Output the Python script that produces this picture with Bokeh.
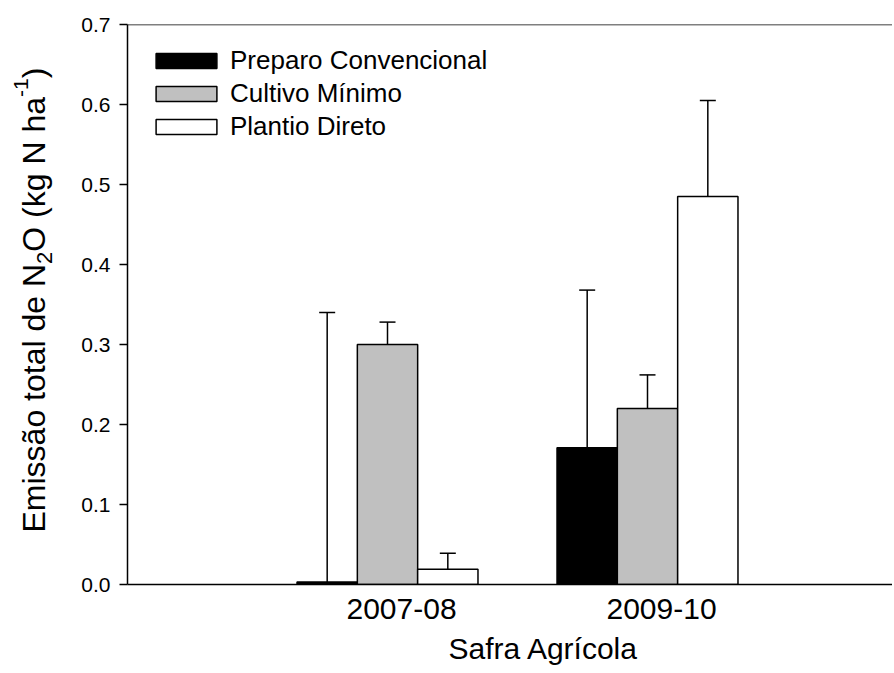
from bokeh.plotting import figure
from bokeh.layouts import row
from bokeh.models import (Range1d, FixedTicker, CustomJSTickFormatter, NumeralTickFormatter,
                          ColumnDataSource, Whisker, TeeHead, Legend, LegendItem, Span, Title)
from bokeh.core.properties import value
from bokeh.embed import file_html
from bokeh.resources import INLINE

# ---------------- data ----------------
seasons = ["2007-08", "2009-10"]
series_names = ["Preparo Convencional", "Cultivo Mínimo", "Plantio Direto"]
series_colors = ["#000000", "#C0C0C0", "#FFFFFF"]
preparo_conv = [0.003, 0.171]
preparo_conv_err = [0.337, 0.197]
cultivo_min = [0.300, 0.220]
cultivo_min_err = [0.028, 0.042]
plantio_dir = [0.019, 0.485]
plantio_dir_err = [0.020, 0.120]
y_ticks = [0.0, 0.1, 0.2, 0.3, 0.4, 0.5, 0.6, 0.7]
x_title = "Safra Agrícola"
# y title pieces: main text, subscript, superscript
y_title_parts = ["Emissão total de N", "2", "O (kg N ha", "-1", ")"]
y_title_kinds = ["main", "sub", "main", "sup", "main"]

FONT = "Liberation Sans"

# ---------------- layout ----------------
TOTAL_W, H = 892, 673
LW = 60                      # width of the strip holding the y title
W = TOTAL_W - LW
FRAME_LEFT, FRAME_TOP, FRAME_BOTTOM = 127, 24, 584
ML = FRAME_LEFT - LW
MT = FRAME_TOP
MB = H - FRAME_BOTTOM
FW = W - ML
PX_PER_X = 260.0
X_END = FW / PX_PER_X
Y_END = 0.7

p = figure(width=W, height=H, output_backend="svg", toolbar_location=None,
           x_range=Range1d(0, X_END), y_range=Range1d(0, Y_END),
           min_border_left=ML, min_border_right=0, min_border_top=MT, min_border_bottom=MB)
p.outline_line_color = None
p.xgrid.visible = False
p.ygrid.visible = False
p.background_fill_color = "white"
p.border_fill_color = "white"

bar_w = 0.232
offsets = [-bar_w, 0.0, bar_w]
vals = [preparo_conv, cultivo_min, plantio_dir]
errs = [preparo_conv_err, cultivo_min_err, plantio_dir_err]

renderers = []
for k in range(3):
    xs = [i + 1 + offsets[k] for i in range(len(seasons))]
    src = ColumnDataSource(dict(x=xs, top=vals[k], lower=vals[k],
                                upper=[v + e for v, e in zip(vals[k], errs[k])]))
    r = p.vbar(x="x", top="top", bottom=0, width=bar_w, source=src,
               fill_color=series_colors[k], line_color="black", line_width=1.5)
    renderers.append(r)
    p.add_layout(Whisker(base="x", lower="lower", upper="upper", source=src, dimension="height",
                         line_color="black", line_width=1.5,
                         upper_head=TeeHead(size=16, line_color="black", line_width=1.5),
                         lower_head=None))

# top frame line
p.add_layout(Span(location=Y_END, dimension="width", line_color="black", line_width=1.5))

# y axis
ya = p.yaxis[0]
ya.ticker = FixedTicker(ticks=y_ticks)
ya.formatter = NumeralTickFormatter(format="0.0")
ya.minor_tick_line_color = None
ya.major_tick_out = 8
ya.major_tick_in = 0
ya.major_tick_line_width = 1.5
ya.axis_line_width = 1.5
ya.major_label_standoff = 9
ya.major_label_text_font = FONT
ya.major_label_text_font_size = "21px"
ya.major_label_text_color = "black"

# x axis
xa = p.xaxis[0]
label_shift = 0.054
xa.ticker = FixedTicker(ticks=[i + 1 + label_shift for i in range(len(seasons))])
xa.formatter = CustomJSTickFormatter(args=dict(labels=seasons), code="return labels[index];")
xa.minor_tick_line_color = None
xa.major_tick_out = 0
xa.major_tick_in = 0
xa.axis_line_width = 1.5
xa.major_label_standoff = 14
xa.major_label_text_font = FONT
xa.major_label_text_font_size = "30px"
xa.major_label_text_color = "black"

# x title
p.add_layout(Title(text=x_title, align="left", offset=321, standoff=16, vertical_align="bottom",
                   text_font=FONT, text_font_size="30px", text_font_style="normal",
                   text_color="black"), "below")

# legend
legend = Legend(items=[LegendItem(label=series_names[k], renderers=[renderers[k]]) for k in range(3)],
                location=(21, 442), orientation="vertical",
                glyph_width=76, glyph_height=19, label_height=30, spacing=2,
                label_standoff=6, padding=0, margin=0,
                label_text_font=FONT, label_text_font_size="26px", label_text_color="black",
                border_line_color=None, background_fill_alpha=0)
p.add_layout(legend)

# ---------------- y title strip ----------------
# its frame shares the main frame's vertical extent; the y range is in page pixels
q = figure(width=LW, height=H, output_backend="svg", toolbar_location=None,
           x_range=Range1d(0, LW), y_range=Range1d(FRAME_BOTTOM, FRAME_TOP),
           x_axis_type=None, y_axis_type=None,
           min_border_left=0, min_border_right=0, min_border_top=MT, min_border_bottom=MB)
q.outline_line_color = None
q.xgrid.visible = False
q.ygrid.visible = False
q.background_fill_color = "white"
q.border_fill_color = "white"

AW = {"E": 667, "m": 833, "i": 222, "s": 500, "ã": 556, "o": 556, " ": 278, "t": 278,
      "a": 556, "l": 222, "d": 556, "e": 556, "N": 722, "2": 556, "O": 778, "(": 333,
      "k": 500, "g": 556, "h": 556, "-": 333, "1": 556, ")": 333}
size_of = {"main": 32, "sub": 22, "sup": 21}
shift_of = {"main": 0, "sub": 11, "sup": -13}
baseline_x = 33
start_y_img = 532
tx, ty, tt, ts = [], [], [], []
pos = start_y_img
for txt, kind in zip(y_title_parts, y_title_kinds):
    fs = size_of[kind]
    tx.append(baseline_x + shift_of[kind])
    ty.append(pos)
    tt.append(txt)
    ts.append(f"{fs}px")
    pos -= sum(AW[c] for c in txt) / 1000.0 * fs
q.text(x=tx, y=ty, text=tt, angle=1.5707963, text_font=value(FONT), text_font_size=ts,
       text_color="black", text_align="left", text_baseline="alphabetic")

layout = row(q, p, spacing=0)
open("out.html", "w").write(file_html(layout, INLINE))
